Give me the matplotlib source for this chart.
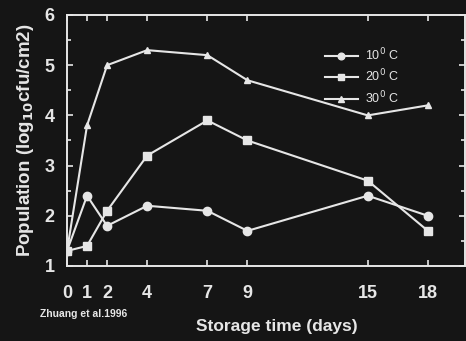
import matplotlib
matplotlib.use("Agg")
import matplotlib.pyplot as plt

days = [0, 1, 2, 4, 7, 9, 15, 18]
pop_10c = [1.3, 2.4, 1.8, 2.2, 2.1, 1.7, 2.4, 2.0]
pop_20c = [1.3, 1.4, 2.1, 3.2, 3.9, 3.5, 2.7, 1.7]
pop_30c = [1.3, 3.8, 5.0, 5.3, 5.2, 4.7, 4.0, 4.2]
labels = ["10$^0$ C", "20$^0$ C", "30$^0$ C"]

BG = "#151515"
FG = "#e6e6e6"

plt.rcParams['font.family'] = ['Liberation Sans', 'DejaVu Sans']

fig = plt.figure(figsize=(4.66, 3.41), dpi=100, facecolor=BG)
ax = fig.add_axes([67 / 466, 75 / 341, 398 / 466, 251 / 341])
ax.set_facecolor(BG)

ax.plot(days, pop_10c, color=FG, lw=1.5, marker='o', ms=6, mfc=FG, mec=FG, label=labels[0])
ax.plot(days, pop_20c, color=FG, lw=1.5, marker='s', ms=5.5, mfc=FG, mec=FG, label=labels[1])
ax.plot(days, pop_30c, color=FG, lw=1.5, marker='^', ms=5, mfc=FG, mec=FG, label=labels[2])

ax.set_xlim(0, 19.85)
ax.set_ylim(1, 6)
ax.set_xticks(days)
ax.set_yticks([1, 2, 3, 4, 5, 6])
ax.set_yticks([1.5, 2.5, 3.5, 4.5, 5.5], minor=True)

for s in ax.spines.values():
    s.set_color(FG)
    s.set_linewidth(1.4)

ax.tick_params(axis='both', which='both', direction='in', colors=FG,
               top=True, right=True, length=4, width=1.2)
ax.tick_params(axis='y', which='minor', length=3)
ax.tick_params(axis='x', pad=14)
ax.tick_params(axis='y', pad=9)
for t in ax.get_xticklabels() + ax.get_yticklabels():
    t.set_fontsize(13)
    t.set_fontweight('bold')
    t.set_color(FG)

ax.set_ylabel("Population (log$_{\\mathbf{10}}$cfu/cm2)", fontsize=13.5,
              fontweight='bold', color=FG, labelpad=6)
fig.text(277 / 466, 1 - 326 / 341, "Storage time (days)", fontsize=12.5,
         fontweight='bold', color=FG, ha='center', va='center')
fig.text(40 / 466, 1 - 314 / 341, "Zhuang et al.1996", fontsize=7.5,
         fontweight='bold', color=FG, ha='left', va='center')

leg = ax.legend(loc='upper left', bbox_to_anchor=(0.62, 0.92), frameon=False,
                fontsize=9, handlelength=2.6, labelspacing=0.4, markerscale=0.8,
                handletextpad=0.6)
for txt in leg.get_texts():
    txt.set_color(FG)

fig.savefig("out.png", dpi=100, facecolor=BG)
